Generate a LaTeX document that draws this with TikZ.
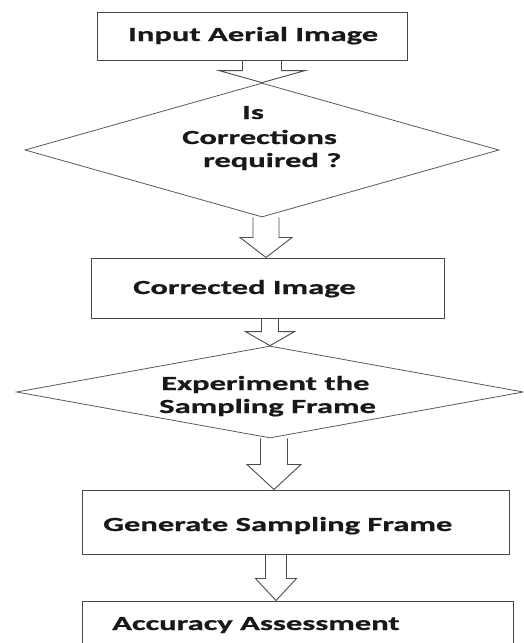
\documentclass[tikz,border=0pt]{standalone}
\usepackage{fontspec}
\newfontfamily\lblfont{Carlito}[FakeStretch=1.63,BoldFeatures={FakeBold=0.8}]
\usetikzlibrary{shapes.geometric,calc}
\tikzset{
  boxshape/.style={draw=black!72, line width=1pt, rectangle, inner sep=0pt},
  diashape/.style={draw=black!65, line width=0.8pt, diamond, inner sep=0pt},
  lbl/.style={anchor=base west, inner sep=0pt, font=\lblfont\bfseries\fontsize{20}{24}\selectfont, text=black!90},
  blk/.style={draw=black!70, line width=0.9pt, line join=miter},
}
\newcommand\blockarrow[5]{%
  \draw[blk] let \p1=(#1), \p2=(#2) in
    (\x2-#3,\y1) -- (\x2-#3,\y2+#5) -- (\x2-#4,\y2+#5) -- (\x2,\y2)
    -- (\x2+#4,\y2+#5) -- (\x2+#3,\y2+#5) -- (\x2+#3,\y1);}
\begin{document}
\begin{tikzpicture}[x=1pt,y=-1pt]
\useasboundingbox (0,0) rectangle (523,643);
\clip (0,0) rectangle (523,643);
% shapes
\node[boxshape, minimum width=310pt, minimum height=48pt] (b1) at (252,36) {};
\node[diashape, minimum width=474pt, minimum height=134pt] (d1) at (262,150) {};
\node[boxshape, minimum width=353pt, minimum height=60pt] (b2) at (267.5,288) {};
\node[diashape, minimum width=507pt, minimum height=92pt] (d2) at (270,392) {};
\node[boxshape, minimum width=427pt, minimum height=64pt] (b3) at (295.5,522) {};
\node[boxshape, minimum width=431pt, minimum height=64pt] (b4) at (297.5,633) {};
% texts
\node[lbl] (t1) at (128,41) {Input Aerial Image};
\node[lbl] (t2a) at (242,119) {Is};
\node[lbl] (t2b) at (182,144) {Corrections};
\node[lbl] (t2c) at (203,167) {required ?};
\node[lbl] (t3) at (133,294) {Corrected Image};
\node[lbl] (t4a) at (161,390) {Experiment the};
\node[lbl] (t4b) at (159,413) {Sampling Frame};
\node[lbl] (t5) at (103,531) {Generate Sampling Frame};
\node[lbl] (t6) at (112,630) {Accuracy Assessment};
% block arrows
\blockarrow{b1.south -| d1.north}{d1.north}{19.5pt}{43pt}{12pt}
\blockarrow{d1.south}{$(b2.north -| d1.south)+(4,0)$}{13pt}{26pt}{20pt}
\blockarrow{b2.south -| d2.north}{d2.north}{8.5pt}{24.5pt}{14pt}
\blockarrow{d2.south}{$(b3.north -| d2.south)+(4,0)$}{13.5pt}{27pt}{25pt}
\blockarrow{b3.south -| d2.south}{$(b4.north -| d2.south)+(6,0)$}{10.5pt}{20.5pt}{22pt}
\end{tikzpicture}
\end{document}
